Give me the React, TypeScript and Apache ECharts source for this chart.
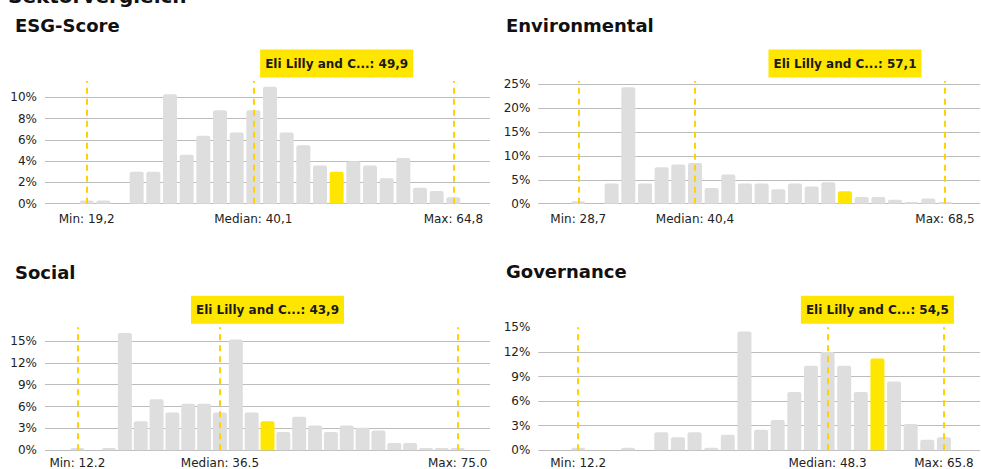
import React, { useEffect, useRef } from "react";
import * as echarts from "echarts";

// ---- data ----
const mainTitle = "Sektorvergleich";
const panelTitles = ["ESG-Score", "Environmental", "Social", "Governance"];
const companyName = "Eli Lilly and C...";
const companyScores = ["49,9", "57,1", "43,9", "54,5"];

// share of companies per score bin, in %
const esgValues = [0.3, 0.3, 0, 3.0, 3.0, 10.3, 4.6, 6.4, 8.8, 6.7, 8.8, 11.0, 6.7, 5.5, 3.6, 3.0, 4.0, 3.6, 2.4, 4.3, 1.5, 1.2, 0.6];
const envValues = [0.5, 0, 4.2, 24.3, 4.2, 7.6, 8.2, 8.5, 3.3, 6.1, 4.2, 4.2, 3.0, 4.2, 3.6, 4.5, 2.6, 1.4, 1.4, 0.8, 0.35, 1.1, 0.35];
const socValues = [0.3, 0, 0.3, 16.1, 4.0, 7.0, 5.2, 6.4, 6.4, 5.2, 15.2, 5.2, 4.0, 2.5, 4.6, 3.4, 2.5, 3.4, 3.1, 2.7, 1.0, 1.0, 0.3, 0.3, 0.3];
const govValues = [0.3, 0, 0, 0.3, 0, 2.2, 1.6, 2.2, 0.3, 1.9, 14.5, 2.5, 3.7, 7.1, 10.3, 12.0, 10.3, 7.1, 11.2, 8.4, 3.2, 1.3, 1.6];

// bin holding the company, the median
const highlightBins = [15, 16, 12, 18];
const medianBins = [10, 7, 9, 15];

const minLabels = ["Min: 19,2", "Min: 28,7", "Min: 12.2", "Min: 12.2"];
const medianLabels = ["Median: 40,1", "Median: 40,4", "Median: 36.5", "Median: 48.3"];
const maxLabels = ["Max: 64,8", "Max: 68,5", "Max: 75.0", "Max: 65.8"];

const yIntervals = [2, 5, 3, 3];

// ---- layout / style ----
const FONT = "DejaVu Sans";
const GRAY_BAR = "#dedede";
const GRID_LINE = "#bcbcbc";
const YELLOW = "#FFE600";
const DASH = "#FFD200";
const TEXT = "#222222";

const grids = [
  { left: 45, right: 491, top: 81, bottom: 265.3 },
  { left: 538.3, right: 1, top: 81, bottom: 265.3 },
  { left: 45, right: 491, top: 327.3, bottom: 18.7 },
  { left: 538.3, right: 1, top: 327.3, bottom: 18.7 },
];
const yMaxes = [11.54, 25.63, 16.87, 15];
const xRanges = [
  [-2.5, 24.2],
  [-2.4, 24.1],
  [-2.04, 26.04],
  [-2.4, 24.17],
];
const labelDistances = [9, 9, 7, 7];
const titlePos = [
  [15, 25.5],
  [506, 25.5],
  [15, 272],
  [506, 271.5],
];

export default function App() {
  const ref = useRef<HTMLDivElement>(null);

  useEffect(() => {
    if (!ref.current) return;
    const chart = echarts.init(ref.current, undefined, { renderer: "svg" });
    const allValues = [esgValues, envValues, socValues, govValues];

    const xAxis = allValues.map((_, i) => ({
      type: "value",
      gridIndex: i,
      min: xRanges[i][0],
      max: xRanges[i][1],
      show: false,
    }));

    const yAxis = allValues.map((_, i) => ({
      type: "value",
      gridIndex: i,
      min: 0,
      max: yMaxes[i],
      interval: yIntervals[i],
      axisLine: { show: false },
      axisTick: { show: false },
      axisLabel: {
        color: TEXT,
        fontSize: 12,
        fontFamily: FONT,
        margin: 8,
        formatter: (v: number) =>
          Math.abs(v / yIntervals[i] - Math.round(v / yIntervals[i])) < 1e-6 ? `${Math.round(v)}%` : "",
      },
      splitLine: {
        show: true,
        showMaxLine: false,
        lineStyle: { color: GRID_LINE, width: 1 },
      },
    }));

    const series = allValues.map((vals, i) => {
      const last = vals.length - 1;
      const hl = highlightBins[i];
      return {
        type: "bar",
        xAxisIndex: i,
        yAxisIndex: i,
        barWidth: 14,
        data: vals.map((v, k) => ({
          value: [k, v],
          itemStyle: { color: k === hl ? YELLOW : GRAY_BAR, borderRadius: [2, 2, 0, 0] },
        })),
        markLine: {
          silent: true,
          symbol: ["none", "none"],
          lineStyle: { color: DASH, type: [6, 5], width: 2 },
          label: {
            show: true,
            position: "start",
            distance: labelDistances[i],
            formatter: "{b}",
            color: TEXT,
            fontSize: 12,
            fontFamily: FONT,
          },
          data: [
            [{ name: minLabels[i], coord: [0, 0] }, { coord: [0, yMaxes[i]] }],
            [{ name: medianLabels[i], coord: [medianBins[i], 0] }, { coord: [medianBins[i], yMaxes[i]] }],
            [{ name: maxLabels[i], coord: [last, 0] }, { coord: [last, yMaxes[i]] }],
          ],
        },
        markPoint: {
          silent: true,
          symbol: "rect",
          symbolSize: 1,
          itemStyle: { color: "rgba(0,0,0,0)" },
          label: {
            show: true,
            position: "top",
            distance: 3,
            formatter: `${companyName}: ${companyScores[i]}`,
            backgroundColor: YELLOW,
            padding: [7, 5, 7, 5],
            lineHeight: 14,
            color: "#1a1a1a",
            fontWeight: "bold",
            fontSize: 12,
            fontFamily: FONT,
          },
          data: [{ coord: [hl, yMaxes[i]] }],
        },
      };
    });

    const graphic: any[] = [
      {
        type: "text",
        x: 8,
        y: -4,
        style: { text: mainTitle, fill: "#111", font: `bold 20px "${FONT}"`, verticalAlign: "middle" },
      },
      ...panelTitles.map((t, i) => ({
        type: "text",
        x: titlePos[i][0],
        y: titlePos[i][1],
        style: { text: t, fill: "#111", font: `bold 18px "${FONT}"`, verticalAlign: "middle" },
      })),
    ];

    chart.setOption({
      animation: false,
      backgroundColor: "#ffffff",
      grid: grids,
      xAxis,
      yAxis,
      series,
      graphic,
    });

    return () => chart.dispose();
  }, []);

  return (
    <div
      ref={ref}
      style={{ position: "fixed", left: 0, top: 0, width: 981, height: 469 }}
    />
  );
}
